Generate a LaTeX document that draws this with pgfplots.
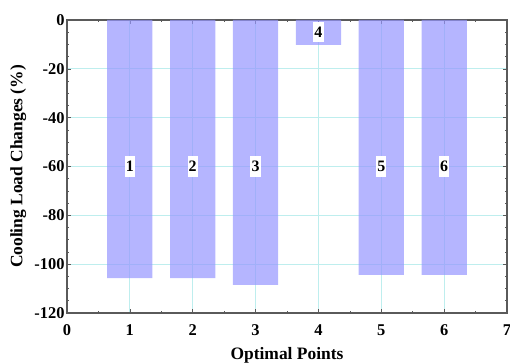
\documentclass[border=0pt]{standalone}
\usepackage{pgfplots}
\pgfplotsset{compat=1.18}
\usepackage{fontspec}
\setmainfont{Liberation Serif}
\definecolor{barfill}{RGB}{150,150,255}
\definecolor{gridc}{RGB}{190,238,238}
\definecolor{framec}{RGB}{90,90,90}
\tikzset{idx/.style={fill=white, inner xsep=1.2bp, inner ysep=5bp, font=\fontsize{16}{18}\selectfont\bfseries}}
\begin{document}
\begin{tikzpicture}[x=1bp,y=1bp]
\useasboundingbox (-67bp,-50bp) rectangle (443bp,313bp);
\begin{axis}[
  at={(0,0)}, anchor=south west,
  scale only axis,
  width=440bp, height=293bp,
  xmin=0, xmax=7, ymin=-120, ymax=0,
  xtick={0,1,...,7}, ytick={-120,-100,...,0},
  minor y tick num=3, minor x tick num=1,
  tick align=inside,
  major tick length=4bp, minor tick length=2bp,
  grid=major,
  major grid style={gridc, line width=0.8bp},
  axis line style={framec, line width=1.5bp},
  tick style={framec, line width=0.6bp},
  ticklabel style={font=\fontsize{16.5}{18}\selectfont\bfseries},
  /pgf/number format/assume math mode=true,
  xticklabel style={yshift=-8bp},
  yticklabel style={xshift=1bp},
  xlabel={Optimal Points}, ylabel={Cooling Load Changes (\%)},
  label style={font=\fontsize{17.5}{20}\selectfont\bfseries},
  xlabel style={at={(axis description cs:0.5,-0.143)}, anchor=center},
  ylabel style={at={(axis description cs:-0.111,0.5)}, anchor=center},
]
\addplot[ybar, bar width=0.72, fill=barfill, fill opacity=0.7, draw=none]
  coordinates {(1,-105.7) (2,-105.7) (3,-108.5) (4,-10.2) (5,-104.4) (6,-104.4)};
% index labels inside the bars
\node[idx] at (axis cs:1,-60) {1};
\node[idx] at (axis cs:2,-60) {2};
\node[idx] at (axis cs:3,-60) {3};
\node[idx] at (axis cs:4,-5) {4};
\node[idx] at (axis cs:5,-60) {5};
\node[idx] at (axis cs:6,-60) {6};
\end{axis}
\end{tikzpicture}
\end{document}
